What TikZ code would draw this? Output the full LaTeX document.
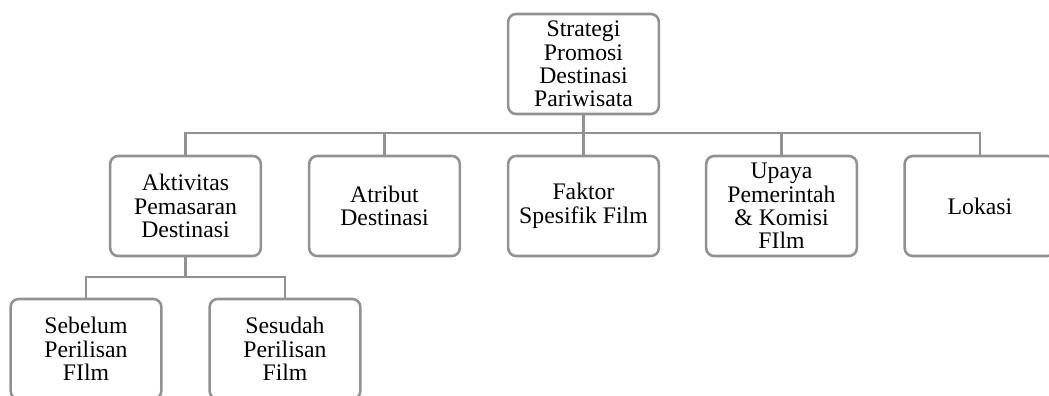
\documentclass[tikz,border=0pt]{standalone}
\usepackage{fontspec}
\setmainfont{Liberation Serif}
\definecolor{boxgray}{RGB}{145,145,145}

\begin{document}
\begin{tikzpicture}[x=0.75pt,y=0.75pt,yscale=-1,xscale=1,
        box/.style={draw=boxgray,line width=1.9pt,rounded corners=6pt,minimum width=113pt,minimum height=75pt,inner sep=2pt,align=center,font=\fontsize{17.8}{17.6}\selectfont},
        link/.style={draw=boxgray,line width=1.9pt}]
        \clip (0,0) rectangle (1049,396);
        % Top box
        \node[box] (strategi) at (583.5,64) {Strategi\\Promosi\\Destinasi\\Pariwisata};
        % Second row
        \node[box] (aktivitas) at (185.5,206) {Aktivitas\\Pemasaran\\Destinasi};
        \node[box] (atribut) at (384.5,206) {Atribut\\Destinasi};
        \node[box] (faktor) at (583.5,206) {Faktor\\Spesifik Film};
        \node[box] (upaya) at (781.5,206) {Upaya\\Pemerintah\\\& Komisi\\FIlm};
        \node[box] (lokasi) at (980,206) {Lokasi};
        % Third row
        \node[box] (sebelum) at (86,349) {Sebelum\\Perilisan\\FIlm};
        \node[box] (sesudah) at (285,349) {Sesudah\\Perilisan\\Film};
        % Bus points
        \coordinate (busA) at (583.5,133);
        \coordinate (busB) at (185.5,277);
        % Connectors
        \draw[link] (strategi.south) -- (busA);
        \draw[link] (busA) -| (aktivitas.north);
        \draw[link] (busA) -| (atribut.north);
        \draw[link] (busA) -- (faktor.north);
        \draw[link] (busA) -| (upaya.north);
        \draw[link] (busA) -| (lokasi.north);
        \draw[link] (aktivitas.south) -- (busB);
        \draw[link] (busB) -| (sebelum.north);
        \draw[link] (busB) -| (sesudah.north);
    \end{tikzpicture}
\end{document}
